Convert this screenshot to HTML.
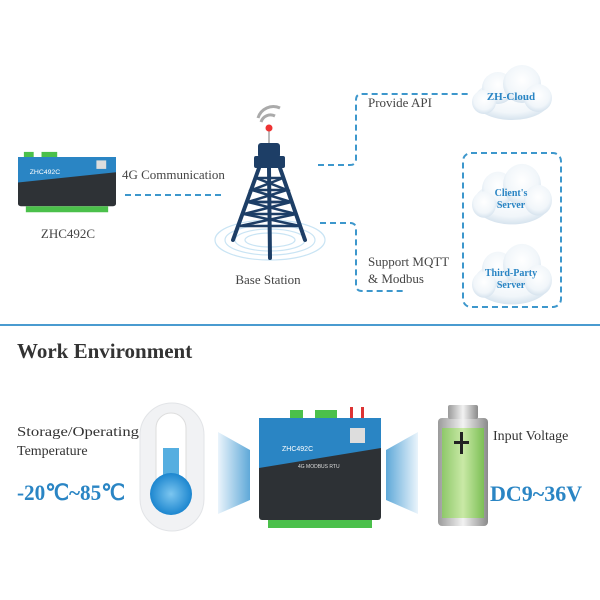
<!DOCTYPE html>
<html><head><meta charset="utf-8"><style>
html,body{margin:0;padding:0;background:#fff;}
svg{display:block}
</style></head><body>
<svg width="600" height="600" viewBox="0 0 600 600" xmlns="http://www.w3.org/2000/svg">
<defs>
<radialGradient id="cloud" cx="50%" cy="40%" r="60%"><stop offset="0" stop-color="#ffffff"/><stop offset="0.7" stop-color="#f1f6fa"/><stop offset="1" stop-color="#d6e3ee"/></radialGradient>
<linearGradient id="beamL" x1="0" x2="1"><stop offset="0" stop-color="#e8f3fb"/><stop offset="1" stop-color="#4d9fd4"/></linearGradient>
<linearGradient id="beamR" x1="1" x2="0"><stop offset="0" stop-color="#e8f3fb"/><stop offset="1" stop-color="#4d9fd4"/></linearGradient>
<linearGradient id="batt" x1="0" x2="1"><stop offset="0" stop-color="#8ec86a"/><stop offset="0.5" stop-color="#c9e9a6"/><stop offset="1" stop-color="#7cbf55"/></linearGradient>
<linearGradient id="metal" x1="0" x2="1"><stop offset="0" stop-color="#9a9a9a"/><stop offset="0.5" stop-color="#f2f2f2"/><stop offset="1" stop-color="#8a8a8a"/></linearGradient>
<radialGradient id="bulb" cx="50%" cy="50%" r="50%"><stop offset="0" stop-color="#7cc6f0"/><stop offset="1" stop-color="#1c86cf"/></radialGradient>
<g id="dev">
<rect x="6" y="-6" width="10" height="8" fill="#4bc04b"/><rect x="24" y="-6" width="16" height="8" fill="#4bc04b"/>
<rect x="0" y="0" width="100" height="58" rx="3" fill="#2e3236"/>
<polygon points="0,0 100,0 100,18 0,30" fill="#2a85c4"/>
<rect x="80" y="4" width="10" height="10" fill="#ddd"/>
<rect x="8" y="58" width="84" height="7" fill="#4bc04b"/>
<text x="12" y="20" font-family="Liberation Sans,sans-serif" font-size="7" fill="#fff">ZHC492C</text>
</g>
<g id="cl">
<ellipse cx="0" cy="4" rx="38" ry="20" fill="url(#cloud)"/>
<circle cx="-14" cy="-8" r="16" fill="url(#cloud)"/><circle cx="10" cy="-12" r="19" fill="url(#cloud)"/>
<circle cx="26" cy="2" r="14" fill="url(#cloud)"/><circle cx="-28" cy="6" r="12" fill="url(#cloud)"/>
</g>
</defs>

<g transform="translate(18,157) scale(0.98,0.85)"><use href="#dev"/></g>
<text x="68" y="238" text-anchor="middle" font-family="Liberation Serif,serif" font-size="13" fill="#444">ZHC492C</text>
<text x="122" y="179" font-family="Liberation Serif,serif" font-size="13" fill="#444">4G Communication</text>
<line x1="125" y1="195" x2="222" y2="195" stroke="#3d97cc" stroke-width="2" stroke-dasharray="6,4"/>

<g fill="none" stroke="#c9e4f4" stroke-width="1.2">
<ellipse cx="270" cy="240" rx="55" ry="20"/><ellipse cx="270" cy="240" rx="45" ry="15"/><ellipse cx="270" cy="240" rx="35" ry="11"/><ellipse cx="270" cy="240" rx="25" ry="7"/>
</g>
<path d="M258,118 a16,16 0 0 1 22,-10 M261,122 a10,10 0 0 1 14,-6" stroke="#aaa" stroke-width="3" fill="none"/>
<line x1="269" y1="128" x2="269" y2="145" stroke="#bbb" stroke-width="2"/>
<circle cx="269" cy="128" r="3.5" fill="#e33"/>
<g stroke="#1d3e66" stroke-width="4" fill="none" stroke-linecap="round">
<line x1="259" y1="168" x2="233" y2="240"/><line x1="280" y1="168" x2="305" y2="240"/><line x1="269" y1="168" x2="270" y2="258"/>
</g>
<g stroke="#1d3e66" stroke-width="2.5" fill="none">
<path d="M256,178 L283,178 M252,190 L287,190 M248,202 L291,202 M244,214 L296,214 M240,226 L300,226"/>
<path d="M256,178 L287,190 L248,202 L291,202 M283,178 L252,190 L291,202 M248,202 L296,214 M291,202 L244,214 L300,226 M296,214 L240,226"/>
</g>
<rect x="258" y="143" width="22" height="15" rx="3" fill="#1d3e66"/>
<rect x="254" y="156" width="31" height="12" rx="2" fill="#1d3e66"/>
<text x="268" y="284" text-anchor="middle" font-family="Liberation Serif,serif" font-size="13" fill="#444">Base Station</text>

<g stroke="#3d97cc" stroke-width="2" fill="none" stroke-dasharray="6,4">
<path d="M318,165 H350 Q356,165 356,159 V100 Q356,94 362,94 H470"/>
<path d="M320,223 H350 Q356,223 356,229 V285 Q356,291 362,291 H404"/>
<rect x="463" y="153" width="98" height="154" rx="8"/>
</g>
<text x="368" y="107" font-family="Liberation Serif,serif" font-size="13" fill="#444">Provide API</text>
<text x="368" y="266" font-family="Liberation Serif,serif" font-size="13" fill="#444">Support MQTT</text>
<text x="368" y="283" font-family="Liberation Serif,serif" font-size="13" fill="#444">&amp; Modbus</text>

<use href="#cl" transform="translate(512,96)"/>
<text x="511" y="100" text-anchor="middle" font-family="Liberation Serif,serif" font-weight="bold" font-size="11" fill="#2a85c4">ZH-Cloud</text>
<use href="#cl" transform="translate(512,198) scale(1,1.1)"/>
<text x="511" y="196" text-anchor="middle" font-family="Liberation Serif,serif" font-weight="bold" font-size="10" fill="#2a85c4">Client's</text>
<text x="511" y="208" text-anchor="middle" font-family="Liberation Serif,serif" font-weight="bold" font-size="10" fill="#2a85c4">Server</text>
<use href="#cl" transform="translate(512,278) scale(1,1.1)"/>
<text x="511" y="276" text-anchor="middle" font-family="Liberation Serif,serif" font-weight="bold" font-size="10" fill="#2a85c4">Third-Party</text>
<text x="511" y="288" text-anchor="middle" font-family="Liberation Serif,serif" font-weight="bold" font-size="10" fill="#2a85c4">Server</text>

<rect x="0" y="324" width="600" height="2" fill="#4a9bd0"/>
<text x="17" y="358" font-family="Liberation Serif,serif" font-weight="bold" font-size="21" fill="#333">Work Environment</text>

<text x="17" y="436" font-family="Liberation Serif,serif" font-size="14" fill="#333" textLength="122" lengthAdjust="spacingAndGlyphs">Storage/Operating</text>
<text x="17" y="455" font-family="Liberation Serif,serif" font-size="14" fill="#333">Temperature</text>
<text x="17" y="500" font-family="Liberation Serif,serif" font-weight="bold" font-size="22" fill="#2a85c4" textLength="108" lengthAdjust="spacingAndGlyphs">-20℃~85℃</text>

<rect x="140" y="403" width="64" height="128" rx="32" fill="#f1f2f4" stroke="#e2e4e7"/>
<rect x="156" y="413" width="30" height="100" rx="15" fill="#fff" stroke="#ddd"/>
<rect x="163" y="448" width="16" height="40" fill="#55aee0"/>
<circle cx="171" cy="494" r="21" fill="url(#bulb)"/>

<polygon points="218,432 250,450 250,500 218,514" fill="url(#beamL)" opacity="0.9"/>
<polygon points="418,432 386,450 386,500 418,514" fill="url(#beamR)" opacity="0.9"/>

<rect x="290" y="410" width="13" height="8" fill="#4bc04b"/><rect x="315" y="410" width="22" height="8" fill="#4bc04b"/>
<rect x="350" y="407" width="3" height="12" fill="#d33"/><rect x="361" y="407" width="3" height="12" fill="#d33"/>
<rect x="259" y="418" width="122" height="102" rx="3" fill="#2d3135"/>
<polygon points="259,418 381,418 381,448 259,468" fill="#2a85c4"/>
<rect x="350" y="428" width="15" height="15" fill="#ddd"/>
<text x="282" y="451" font-family="Liberation Sans,sans-serif" font-size="7" fill="#fff">ZHC492C</text>
<text x="298" y="468" font-family="Liberation Sans,sans-serif" font-size="5" fill="#ddd">4G MODBUS RTU</text>
<rect x="268" y="520" width="104" height="8" fill="#4bc04b"/>

<rect x="438" y="418" width="50" height="108" rx="4" fill="url(#metal)"/>
<rect x="442" y="428" width="42" height="90" fill="url(#batt)"/>
<rect x="448" y="405" width="30" height="14" rx="2" fill="url(#metal)"/>
<rect x="460" y="432" width="3" height="22" fill="#222"/><rect x="454" y="441" width="15" height="3" fill="#222"/>
<text x="493" y="440" font-family="Liberation Serif,serif" font-size="14" fill="#333">Input Voltage</text>
<text x="490" y="501" font-family="Liberation Serif,serif" font-weight="bold" font-size="22" fill="#2a85c4">DC9~36V</text>
</svg>
</body></html>
